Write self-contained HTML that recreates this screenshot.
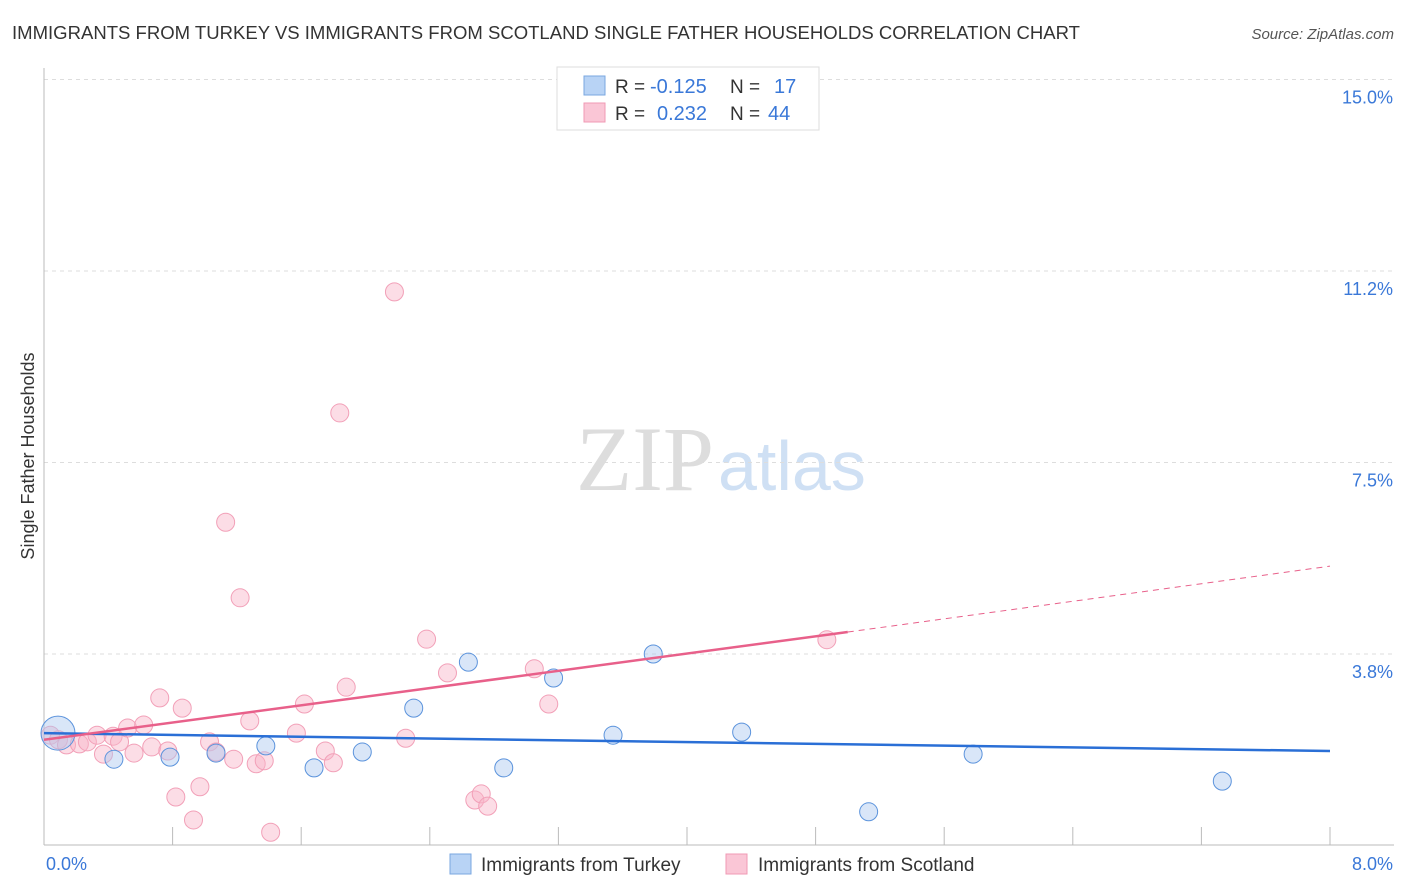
<!DOCTYPE html>
<html><head><meta charset="utf-8"><style>
body{margin:0;background:#fff;font-family:"Liberation Sans",sans-serif;}
#wrap{position:relative;width:1406px;height:892px;overflow:hidden;}
</style></head><body>
<div id="wrap">
<svg id="svg" width="1406" height="892" xmlns="http://www.w3.org/2000/svg">
<text x="12" y="39" font-size="18" fill="#333" textLength="1068" lengthAdjust="spacingAndGlyphs">IMMIGRANTS FROM TURKEY VS IMMIGRANTS FROM SCOTLAND SINGLE FATHER HOUSEHOLDS CORRELATION CHART</text>
<text x="1394" y="39" font-size="15" fill="#555" font-style="italic" text-anchor="end">Source: ZipAtlas.com</text>
<text x="714" y="490" font-size="92" fill="#ddd" text-anchor="end" font-family="Liberation Serif,serif">ZIP</text>
<text x="718" y="490" font-size="70" fill="#cfe0f4">atlas</text>
<text transform="translate(34,456) rotate(-90)" font-size="18" fill="#333" text-anchor="middle">Single Father Households</text>
<g id="grid"></g><g id="marks"></g>
<g>
<rect x="557" y="67" width="262" height="63" fill="#fff" stroke="#ddd"/>
<rect x="584" y="76" width="21" height="19" fill="#b8d3f5" stroke="#7aa7e0"/>
<rect x="584" y="103" width="21" height="19" fill="#fac6d6" stroke="#f09ab4"/>
<text x="615" y="93" font-size="19" fill="#333">R = </text>
<text x="650" y="93" font-size="20" fill="#3a78d8">-0.125</text>
<text x="730" y="93" font-size="19" fill="#333">N = </text>
<text x="774" y="93" font-size="20" fill="#3a78d8">17</text>
<text x="615" y="120" font-size="19" fill="#333">R = </text>
<text x="657" y="120" font-size="20" fill="#3a78d8">0.232</text>
<text x="730" y="120" font-size="19" fill="#333">N = </text>
<text x="768" y="120" font-size="20" fill="#3a78d8">44</text>
</g>
<g>
<rect x="450" y="854" width="21" height="20" fill="#b8d3f5" stroke="#7aa7e0"/>
<text x="481" y="871" font-size="19" fill="#333">Immigrants from Turkey</text>
<rect x="726" y="854" width="21" height="20" fill="#fac6d6" stroke="#f09ab4"/>
<text x="758" y="871" font-size="19" fill="#333">Immigrants from Scotland</text>
</g>
</svg></div>
<script>
const xTickVals=[0,0.8,1.6,2.4,3.2,4.0,4.8,5.6,6.4,7.2,8.0];
const yTickVals=[3.75,7.5,11.25,15];
const yTickLabels=["3.8%","7.5%","11.2%","15.0%"];
const xEndLabels=["0.0%","8.0%"];
const turkeyX=[0.087,0.435,0.784,1.07,1.38,1.68,1.98,2.30,2.64,2.86,3.17,3.54,3.79,4.34,5.13,5.78,7.33];
const turkeyY=[2.20,1.69,1.73,1.81,1.95,1.52,1.83,2.69,3.59,1.52,3.28,2.16,3.75,2.22,0.66,1.79,1.26];
const scotX=[0.04,0.09,0.14,0.22,0.27,0.33,0.37,0.43,0.47,0.52,0.56,0.62,0.67,0.72,0.77,0.82,0.86,0.93,0.97,1.03,1.07,1.13,1.18,1.22,1.28,1.32,1.37,1.41,1.57,1.62,1.75,1.80,1.84,1.88,2.18,2.25,2.38,2.51,2.68,2.72,2.76,3.05,3.14,4.87];
const scotY=[2.16,2.07,1.97,1.99,2.03,2.16,1.79,2.14,2.03,2.30,1.81,2.36,1.93,2.89,1.85,0.95,2.69,0.50,1.15,2.03,1.83,6.33,1.69,4.85,2.44,1.60,1.66,0.26,2.20,2.77,1.85,1.62,8.47,3.10,10.84,2.10,4.04,3.38,0.89,1.01,0.77,3.46,2.77,4.03];
const turkeyTrend=[[0,2.20],[8,1.85]];
const scotTrend=[[0,2.07],[5.0,4.18]];
const scotTrendDash=[[5.0,4.18],[8,5.47]];
const NS="http://www.w3.org/2000/svg";
const sx=v=>44+v/8*1286;
const sy=v=>845.5-v*51.07;
function mk(tag,attrs,parent){const e=document.createElementNS(NS,tag);for(const k in attrs)e.setAttribute(k,attrs[k]);parent.appendChild(e);return e;}
const grid=document.getElementById('grid'),marks=document.getElementById('marks');
yTickVals.forEach((v,i)=>{
 const l=mk('line',{x1:44,x2:1394,y1:sy(v),y2:sy(v),stroke:'#ddd','stroke-dasharray':'4,4'},grid);
 
 
 const t=mk('text',{x:1393,y:sy(v)+24,'font-size':18,fill:'#3a78d8','text-anchor':'end'},grid);
 t.textContent=yTickLabels[i];
 
 
});
const ax=mk('line',{x1:44,x2:1394,y1:845,y2:845,stroke:'#bbb'},grid);


const ay=mk('line',{x1:44,x2:44,y1:68,y2:845,stroke:'#bbb'},grid);


xTickVals.forEach(v=>{
 if(v===0)return;
 const l=mk('line',{x1:sx(v),x2:sx(v),y1:827,y2:845,stroke:'#bbb'},grid);
 
 
});
[[0,'start',46],[8,'end',1393]].forEach((d,i)=>{
 const t=mk('text',{x:d[2],y:870,'font-size':18,fill:'#3a78d8','text-anchor':d[1]},grid);
 t.textContent=xEndLabels[i];
 
 
});
scotX.forEach((x,i)=>{
 const c=mk('circle',{cx:sx(x),cy:sy(scotY[i]),r:9,fill:'rgba(248,180,200,0.45)',stroke:'#f2a0b8','stroke-width':1},marks);
 
 
});
turkeyX.forEach((x,i)=>{
 const c=mk('circle',{cx:sx(x),cy:sy(turkeyY[i]),r:i===0?17:9,fill:'rgba(170,200,240,0.45)',stroke:'#5b93dc','stroke-width':1},marks);
 
 
});
const t1=mk('line',{x1:sx(turkeyTrend[0][0]),y1:sy(turkeyTrend[0][1]),x2:sx(turkeyTrend[1][0]),y2:sy(turkeyTrend[1][1]),stroke:'#2a6fd6','stroke-width':2.5},marks);


const t2=mk('line',{x1:sx(scotTrend[0][0]),y1:sy(scotTrend[0][1]),x2:sx(scotTrend[1][0]),y2:sy(scotTrend[1][1]),stroke:'#e8608a','stroke-width':2.5},marks);


const t3=mk('line',{x1:sx(scotTrendDash[0][0]),y1:sy(scotTrendDash[0][1]),x2:sx(scotTrendDash[1][0]),y2:sy(scotTrendDash[1][1]),stroke:'#e8608a','stroke-width':1,'stroke-dasharray':'6,5'},marks);


</script>
</body></html>
